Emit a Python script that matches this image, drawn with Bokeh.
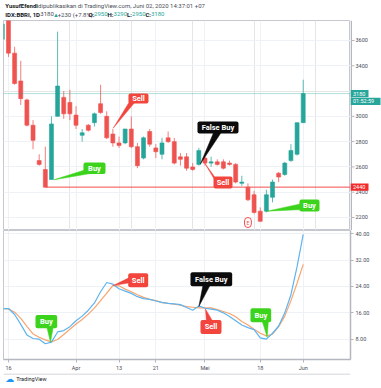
from bokeh.plotting import figure
from bokeh.models import (Range1d, FixedTicker, Label, Grid, BoxAnnotation,
                          NumeralTickFormatter, ColumnDataSource, Span)
from bokeh.layouts import column, row
from bokeh.core.properties import value
from bokeh.embed import file_html
from bokeh.resources import INLINE

# ---------------- data ----------------
day_index = list(range(-1, 49))
opens = [3610, 3780, 3500, 3280, 3130, 2930, 2650, 2580, 2500, 3000,
         3150, 3110, 3010, 2850, 2930, 2950, 3100, 3000, 2860, 2790,
         2790, 2900, 2760, 2670, 2880, 2750, 2700, 2830, 2800, 2680,
         2680, 2600, 2620, 2670, 2630, 2640, 2640, 2630, 2620, 2470,
         2440, 2380, 2250, 2250, 2360, 2550, 2540, 2650, 2700, 2950]
highs = [3760, 3800, 3550, 3440, 3140, 2970, 2700, 2760, 3000, 3670,
         3200, 3210, 3080, 2900, 2940, 3030, 3250, 3040, 2900, 2840,
         2900, 3000, 2790, 2840, 2900, 2780, 2830, 2880, 2830, 2710,
         2710, 2630, 2750, 2680, 2680, 2660, 2660, 2650, 2630, 2530,
         2470, 2410, 2280, 2420, 2500, 2560, 2640, 2780, 2950, 3290]
lows = [3590, 3470, 3250, 3090, 2920, 2740, 2610, 2440, 2500, 3000,
        2980, 2970, 2900, 2800, 2880, 2920, 3020, 2820, 2760, 2750,
        2780, 2750, 2590, 2660, 2760, 2670, 2660, 2790, 2620, 2610,
        2570, 2570, 2610, 2610, 2600, 2610, 2580, 2610, 2470, 2450,
        2330, 2230, 2165, 2240, 2320, 2480, 2530, 2640, 2690, 2950]
closes = [3730, 3500, 3260, 3140, 2930, 2810, 2620, 2440, 2940, 3240,
          3020, 3020, 2930, 2870, 2890, 3020, 3030, 2830, 2790, 2770,
          2900, 2760, 2610, 2830, 2780, 2720, 2790, 2800, 2630, 2660,
          2590, 2580, 2730, 2630, 2640, 2620, 2590, 2620, 2480, 2480,
          2340, 2240, 2170, 2380, 2480, 2520, 2630, 2730, 2950, 3180]
stoch_k = [17.3, 17.3, 15.5, 12.5, 9.3, 8.2, 8.0, 6.6, 7.1, 10.2,
           10.6, 11.8, 13.6, 15.0, 16.8, 19.0, 22.4, 25.2, 24.7, 23.3,
           22.6, 21.9, 20.9, 20.3, 20.1, 19.6, 19.2, 18.9, 18.7, 18.5,
           17.6, 16.8, 18.1, 17.4, 17.1, 16.8, 16.0, 14.9, 13.6, 12.3,
           11.5, 10.9, 8.4, 8.0, 9.8, 12.0, 16.0, 21.5, 30.0, 39.8]
stoch_d = [17.3, 17.2, 16.2, 14.3, 11.9, 9.6, 8.6, 7.8, 7.2, 7.9,
           9.4, 11.0, 12.6, 14.0, 15.6, 17.5, 19.7, 22.0, 24.3, 24.2,
           23.2, 22.4, 21.5, 20.7, 20.1, 19.7, 19.1, 18.9, 18.6, 18.3,
           17.9, 17.7, 17.5, 17.5, 17.5, 17.0, 16.4, 15.8, 14.8, 13.4,
           12.3, 11.0, 9.8, 9.0, 9.5, 11.8, 15.0, 19.7, 25.0, 30.7]
tick_index = [0, 11, 18, 24, 32, 41, 48]
tick_labels = ["16", "Apr", "13", "21", "Mei", "18", "Jun"]
price_ticks = [2200, 2400, 2600, 2800, 3000, 3400, 3600]
osc_ticks = [8, 16, 24, 32, 40]
support_pos = 7          # list position of the candle whose low forms the red line
earnings_day = 39
countdown = "01:52:59"

signal_text = ["Buy", "Sell", "False Buy", "Sell", "Buy"]
signal_kind = ["buy", "sell", "false", "sell", "buy"]

# callout geometry (annotation placement), price panel
main_box = [(12.21, 15.80, 2544, 2635), (19.54, 22.80, 3102, 3181),
            (30.78, 37.46, 2864, 2959), (33.39, 36.48, 2429, 2524),
            (47.39, 50.65, 2247, 2342)]
main_tip = [(7.38, 2498), (17.05, 2906), (31.27, 2625), (31.92, 2633), (42.13, 2250)]
main_base = [((12.7, 2580), (13.36, 2548)), ((20.03, 3141), (20.68, 3117)),
             ((33.55, 2888), (34.85, 2888)), ((33.88, 2500), (34.04, 2461)),
             ((47.88, 2311), (47.88, 2263))]
# callout geometry, oscillator panel
osc_box = [(4.40, 7.93, 11.31, 15.38), (19.50, 22.75, 23.77, 28.02),
           (29.64, 36.43, 24.07, 28.33), (31.27, 34.69, 9.60, 13.86),
           (39.41, 42.78, 13.13, 17.39)]
osc_tip = [(6.84, 7.05), (17.05, 24.3), (31.0, 17.9), (32.08, 17.2), (42.13, 8.57)]
osc_base = [((6.19, 12.13), (7.33, 12.13)), ((20.03, 27.0), (20.03, 25.2)),
            ((31.76, 25.2), (33.06, 25.2)), ((32.25, 13.0), (33.39, 13.0)),
            ((41.2, 14.25), (42.35, 14.25))]

# ---------------- styles ----------------
FONT = "Roboto"
UP, DOWN = "#26a69a", "#ef5350"
GRID, AXIS, TXT, BORDER = "#eef1f6", "#b4b7bf", "#4a4d57", "#c5c8ce"
DARK = "#131722"
KIND_COLOR = {"buy": "#3cd31c", "sell": "#f1453d", "false": "#0b0b0b"}
BLUE, ORANGE = "#5db4f1", "#f7a56f"
W, AXW = 381, 31

WID = {}
for chars, w in [("abdeghnopqu", 0.555), ("cksvxyz", 0.5), ("fjrt", 0.33), ("il", 0.243),
                 ("m", 0.876), ("w", 0.751), ("ABCDEGKNOPQRUVXY", 0.65), ("FJLSTZ", 0.57),
                 ("HM", 0.75), ("I", 0.272), ("W", 0.887), ("0123456789+", 0.561),
                 (" ", 0.248), (":,.", 0.24), ("()", 0.345), ("%", 0.732), ("\u25b2", 0.7)]:
    for ch in chars:
        WID[ch] = w


def tw(s, size, bold=False):
    return sum(WID.get(ch, 0.55) for ch in s) * size * (1.04 if bold else 0.9)


def blank_fig(width, height, y_range=None):
    f = figure(width=width, height=height, x_range=Range1d(0, width),
               y_range=y_range if y_range is not None else Range1d(0, height),
               x_axis_location=None, y_axis_location=None, toolbar_location=None,
               output_backend="svg", min_border=0)
    f.outline_line_color = None
    f.grid.visible = False
    return f


x_range = Range1d(-0.81, 55.7)

# ---------------- header ----------------
p0 = blank_fig(W, 20)
size = 6.0
x = 2
p0.add_layout(Label(x=x, y=15, text="YusufEfendi", text_baseline="middle", text_font=FONT,
                    text_font_style="bold", text_font_size=f"{size}px", text_color=DARK))
x += tw("YusufEfendi", size, True) + 1.8
p0.add_layout(Label(x=x, y=15,
                    text="dipublikasikan di TradingView.com, Juni 02, 2020 14:37:01 +07",
                    text_baseline="middle", text_font=FONT,
                    text_font_size=f"{size}px", text_color=TXT))
chg = closes[-1] - closes[-2]
pct = chg / closes[-2] * 100
parts = [("IDX:BBRI, 1D", DARK, True, 2.6), (f"{closes[-1]}", TXT, False, 1.8),
         ("\u25b2", UP, False, 1.4), (f"+{chg} (+{pct:.1f}%)", TXT, False, 2.4),
         ("O:", DARK, True, 0.5), (f"{opens[-1]}", UP, False, 2.6),
         ("H:", DARK, True, 0.5), (f"{highs[-1]}", UP, False, 2.6),
         ("L:", DARK, True, 0.5), (f"{lows[-1]}", UP, False, 2.6),
         ("C:", DARK, True, 0.5), (f"{closes[-1]}", UP, False, 0)]
x = 2
for txt, col, bold, gap in parts:
    p0.add_layout(Label(x=x, y=6.5, text=txt, text_baseline="middle", text_font=FONT,
                        text_font_style="bold" if bold else "normal",
                        text_font_size=f"{size}px", text_color=col))
    x += tw(txt, size, bold) + gap

# ---------------- price panel ----------------
p1 = figure(width=W - AXW, height=210, x_range=x_range, y_range=Range1d(2097, 3758.2),
            x_axis_location=None, y_axis_location=None, toolbar_location=None,
            output_backend="svg", min_border_left=3, min_border_right=0,
            min_border_top=0, min_border_bottom=0)
p1.outline_line_color = BORDER
p1.add_layout(Grid(dimension=0, ticker=FixedTicker(ticks=tick_index), grid_line_color=GRID))
p1.add_layout(Grid(dimension=1, ticker=FixedTicker(ticks=price_ticks), grid_line_color=GRID))

p1.add_layout(Span(location=closes[-1], dimension="width", line_color=UP,
                   line_alpha=0.35, line_width=1))
p1.ray(x=[day_index[support_pos]], y=[lows[support_pos]], length=0, angle=0,
       line_color="#f44c4c", line_width=1)

up = [i for i in range(len(day_index)) if closes[i] >= opens[i]]
dn = [i for i in range(len(day_index)) if closes[i] < opens[i]]
for sel, col in [(up, UP), (dn, DOWN)]:
    src = ColumnDataSource(dict(
        x=[day_index[i] for i in sel],
        hi=[highs[i] for i in sel], lo=[lows[i] for i in sel],
        top=[max(opens[i], closes[i]) for i in sel],
        bot=[min(opens[i], closes[i]) for i in sel]))
    p1.segment(x0="x", y0="lo", x1="x", y1="hi", source=src, line_color=col,
               line_width=1, line_alpha=0.75)
    p1.vbar(x="x", width=0.65, top="top", bottom="bot", source=src,
            fill_color=col, line_color=col, line_width=0.6)


def callouts(fig, boxes, tips, bases):
    for (l, r, b, t), (tx, ty), ((ax, ay), (bx, by)), txt, kind in zip(
            boxes, tips, bases, signal_text, signal_kind):
        c = KIND_COLOR[kind]
        fig.patch(x=[tx, ax, bx], y=[ty, ay, by], fill_color=c, line_color=c, line_width=0.5)
        fig.add_layout(BoxAnnotation(left=l, right=r, bottom=b, top=t, fill_color=c,
                                     fill_alpha=1, line_color=None, border_radius=2))
        fig.add_layout(Label(x=(l + r) / 2, y=(b + t) / 2, text=txt, text_align="center",
                             text_baseline="middle", text_color="white", text_font=FONT,
                             text_font_style="bold", text_font_size="7.5px"))


callouts(p1, main_box, main_tip, main_base)

# earnings marker
p1.add_layout(Label(x=earnings_day, y=8, y_units="screen", text="E", text_align="center",
                    text_baseline="middle", text_color="#f44c4c", text_font=FONT,
                    text_font_size="5px", border_line_color="#f44c4c",
                    background_fill_color="white", border_radius=4, padding=2))

# ---------------- price scale strip (right) ----------------
pr = blank_fig(AXW, 210, y_range=p1.y_range)
pr.add_layout(Span(location=0.75, dimension="height", line_color=AXIS, line_width=1.5))
tick_src = ColumnDataSource(dict(y=price_ticks, lab=[str(t) for t in price_ticks]))
pr.segment(x0=1.5, y0="y", x1=4, y1="y", source=tick_src, line_color=AXIS, line_width=1)
pr.text(x=5, y="y", text="lab", source=tick_src, text_font=value(FONT),
        text_font_size=value("5.5px"), text_baseline="middle", text_color=TXT)

PX = 7.91  # price units per pixel on the price panel
for txt, yv, right, bg in [(str(closes[-1]), closes[-1], 18, UP),
                           (countdown, closes[-1] - 7.8 * PX, 30, UP),
                           (str(lows[support_pos]), lows[support_pos], 18, "#f22b2b")]:
    pr.add_layout(BoxAnnotation(left=0, right=right, bottom=yv - 3.6 * PX, top=yv + 3.6 * PX,
                                fill_color=bg, fill_alpha=1, line_color=None))
    pr.add_layout(Label(x=2.5, y=yv, text=txt, text_baseline="middle", text_color="white",
                        text_font=FONT, text_font_size="5.5px"))

# ---------------- oscillator panel ----------------
p2 = figure(width=W, height=143, x_range=x_range, y_range=Range1d(1.83, 41.0),
            x_axis_location="below", y_axis_location="right", toolbar_location=None,
            output_backend="svg", min_border_left=3, min_border_right=AXW,
            min_border_top=0, min_border_bottom=14)
p2.outline_line_color = BORDER
ya = p2.yaxis[0]
ya.ticker = FixedTicker(ticks=osc_ticks)
ya.formatter = NumeralTickFormatter(format="0.00")
xa = p2.xaxis[0]
xa.ticker = FixedTicker(ticks=tick_index)
xa.major_label_overrides = dict(zip(tick_index, tick_labels))
for ax in (xa, ya):
    ax.axis_line_color = AXIS
    ax.axis_line_width = 1.5
    ax.major_tick_line_color = AXIS
    ax.major_tick_out = 3
    ax.major_tick_in = 0
    ax.minor_tick_line_color = None
    ax.major_label_text_font = FONT
    ax.major_label_text_font_size = "5.5px"
    ax.major_label_text_color = TXT
    ax.major_label_standoff = 2
p2.xgrid.grid_line_color = GRID
p2.ygrid.grid_line_color = GRID

p2.line(day_index, stoch_d, line_color=ORANGE, line_width=1.2)
p2.line(day_index, stoch_k, line_color=BLUE, line_width=1.2)
callouts(p2, osc_box, osc_tip, osc_base)

# ---------------- footer ----------------
p3 = blank_fig(W, 15)
p3.add_layout(Span(location=14.5, dimension="width", line_color=BORDER, line_width=1))
p3.add_layout(Label(x=2, y=10, text="\u2601", text_baseline="middle", text_font="DejaVu Sans",
                    text_font_size="9px", text_color="#2196f3"))
p3.add_layout(Label(x=14, y=10, text="TradingView", text_baseline="middle", text_font=FONT,
                    text_font_size="5.5px", text_color=DARK))

layout = column(p0, row(p1, pr, spacing=0), p2, p3, spacing=0)
open("out.html", "w").write(file_html(layout, INLINE))
